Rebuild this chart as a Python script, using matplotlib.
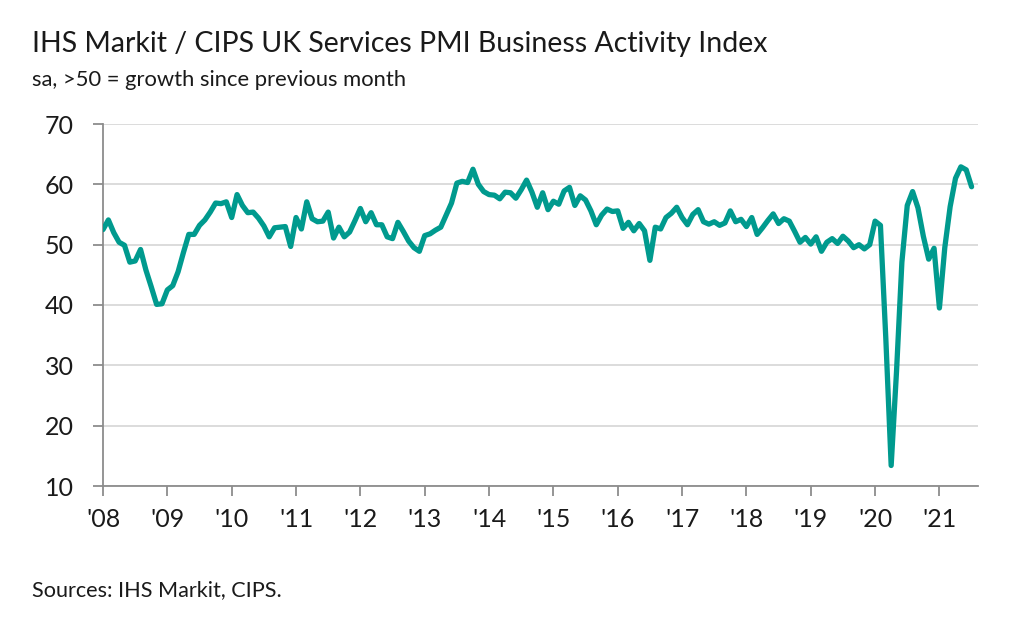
import numpy as np
import matplotlib
matplotlib.use("Agg")
import matplotlib.pyplot as plt

plt.rcParams['font.family'] = ['Lato', 'DejaVu Sans']

# PMI Business Activity Index, monthly, Jan 2008 - Jul 2021
pmi_2008 = [52.5, 54.1, 52.0, 50.4, 49.9, 47.1, 47.3, 49.2, 45.8, 43.0, 40.1, 40.2]
pmi_2009 = [42.5, 43.2, 45.5, 48.7, 51.7, 51.7, 53.2, 54.1, 55.4, 56.9, 56.8, 57.1]
pmi_2010 = [54.5, 58.3, 56.5, 55.3, 55.4, 54.4, 53.1, 51.3, 52.8, 52.9, 53.0, 49.7]
pmi_2011 = [54.5, 52.6, 57.1, 54.3, 53.8, 53.9, 55.4, 51.1, 52.9, 51.3, 52.1, 54.0]
pmi_2012 = [56.0, 53.8, 55.3, 53.3, 53.3, 51.3, 51.0, 53.7, 52.2, 50.6, 49.5, 48.9]
pmi_2013 = [51.5, 51.8, 52.4, 52.9, 54.9, 56.9, 60.2, 60.5, 60.3, 62.5, 60.0, 58.8]
pmi_2014 = [58.3, 58.2, 57.6, 58.7, 58.6, 57.7, 59.1, 60.7, 58.7, 56.2, 58.6, 55.8]
pmi_2015 = [57.2, 56.7, 58.9, 59.5, 56.5, 58.1, 57.4, 55.6, 53.3, 54.9, 55.9, 55.5]
pmi_2016 = [55.6, 52.7, 53.7, 52.3, 53.5, 52.3, 47.4, 52.9, 52.6, 54.5, 55.2, 56.2]
pmi_2017 = [54.5, 53.3, 55.0, 55.8, 53.8, 53.4, 53.8, 53.2, 53.6, 55.6, 53.8, 54.2]
pmi_2018 = [53.0, 54.5, 51.7, 52.8, 54.0, 55.1, 53.5, 54.3, 53.9, 52.2, 50.4, 51.2]
pmi_2019 = [50.1, 51.3, 48.9, 50.4, 51.0, 50.2, 51.4, 50.6, 49.5, 50.0, 49.3, 50.0]
pmi_2020 = [53.9, 53.2, 34.5, 13.4, 29.0, 47.1, 56.5, 58.8, 56.1, 51.4, 47.6, 49.4]
pmi_2021 = [39.5, 49.5, 56.3, 61.0, 62.9, 62.4, 59.6]

years = list(range(2008, 2022))
year_labels = ["'%02d" % (y % 100) for y in years]
y_ticks = [10, 20, 30, 40, 50, 60, 70]

pmi = np.array(pmi_2008 + pmi_2009 + pmi_2010 + pmi_2011 + pmi_2012 + pmi_2013 + pmi_2014
               + pmi_2015 + pmi_2016 + pmi_2017 + pmi_2018 + pmi_2019 + pmi_2020 + pmi_2021)
t = 2008 + np.arange(len(pmi)) / 12

teal = '#009a8e'
axis_grey = '#8c8c8c'
grid_grey = '#d9d9d9'
text_col = '#1a1a1a'

fig = plt.figure(figsize=(10.24, 6.25), dpi=100)
ax = fig.add_axes([0.1006, 0.2224, 0.8545, 0.5792])

ax.plot(t, pmi, color=teal, lw=3.8, solid_joinstyle='round', solid_capstyle='round', zorder=3)

ax.set_xlim(2008, 2021.6)
ax.set_ylim(10, 70)
ax.set_yticks(y_ticks)
ax.set_xticks(years)
ax.set_xticklabels(year_labels)
ax.yaxis.grid(True, color=grid_grey, lw=1.3)
ax.set_axisbelow(True)

for s in ['top', 'right']:
    ax.spines[s].set_visible(False)
for s in ['left', 'bottom']:
    ax.spines[s].set_color(axis_grey)
    ax.spines[s].set_linewidth(1.3)
ax.tick_params(axis='both', colors=axis_grey, width=1.3, length=7, labelsize=18,
               labelcolor=text_col)
ax.tick_params(axis='y', pad=14)
ax.tick_params(axis='x', pad=9)

fig.text(0.031, 0.917, 'IHS Markit / CIPS UK Services PMI Business Activity Index',
         fontsize=20.5, color=text_col, va='baseline')
fig.text(0.031, 0.862, 'sa, >50 = growth since previous month',
         fontsize=15.8, color=text_col, va='baseline')
fig.text(0.031, 0.046, 'Sources: IHS Markit, CIPS.',
         fontsize=15.6, color=text_col, va='baseline')

fig.savefig('out.png', dpi=100)
